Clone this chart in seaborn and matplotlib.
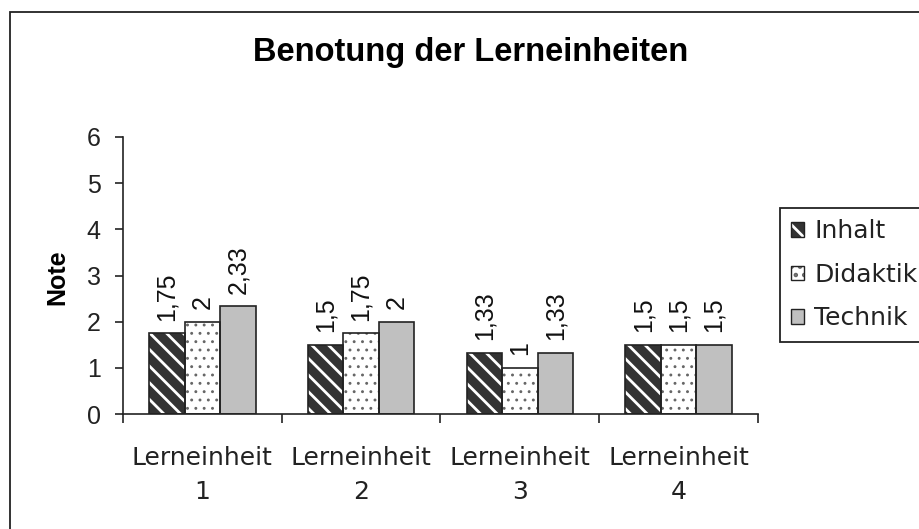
import numpy as np
import pandas as pd
import matplotlib
matplotlib.use("Agg")
import matplotlib.pyplot as plt
import seaborn as sns
from matplotlib.patches import Patch, Rectangle
from matplotlib.legend_handler import HandlerTuple

# ---- data ----
categories = ["Lerneinheit\n1", "Lerneinheit\n2", "Lerneinheit\n3", "Lerneinheit\n4"]
series_names = ["Inhalt", "Didaktik", "Technik"]
inhalt = [1.75, 1.5, 1.33, 1.5]
didaktik = [2, 1.75, 1, 1.5]
technik = [2.33, 2, 1.33, 1.5]
yticks = [0, 1, 2, 3, 4, 5, 6]
title = "Benotung der Lerneinheiten"
ylabel = "Note"


def fmt(v):
    return f"{v:g}".replace(".", ",")


sns.set_theme(style="ticks")
plt.rcParams["font.family"] = ["Liberation Sans", "DejaVu Sans"]
plt.rcParams["hatch.linewidth"] = 2.0
WIDE = ["DejaVu Sans"]

df = pd.DataFrame({
    "Lerneinheit": categories * 3,
    "Note": inhalt + didaktik + technik,
    "Kriterium": sum([[s] * len(categories) for s in series_names], []),
})

fills = {"Inhalt": "#333333", "Didaktik": "#ffffff", "Technik": "#c0c0c0"}
hatches = {"Inhalt": "\\\\", "Didaktik": "..", "Technik": ""}
hatchcol = {"Inhalt": "#ffffff", "Didaktik": "#666666", "Technik": "#c0c0c0"}
hatchlw = {"Inhalt": 2.0, "Didaktik": 0.9, "Technik": 1.0}

fig = plt.figure(figsize=(9.2, 5.29), dpi=100)
ax = fig.add_axes([123 / 920, 1 - 414 / 529, (758 - 123) / 920, (414 - 137) / 529])

sns.barplot(data=df, x="Lerneinheit", y="Note", hue="Kriterium",
            hue_order=series_names, order=categories, palette=fills,
            width=0.67, gap=0, saturation=1, legend=False, ax=ax,
            linewidth=0, errorbar=None)
n_fill = len(ax.containers)
for name, cont in zip(series_names, ax.containers):
    for p in cont:
        p.set_hatch(hatches[name])
        p.set_edgecolor(hatchcol[name])
        p.set_linewidth(0)
        if hasattr(p, "set_hatch_linewidth"):
            p.set_hatch_linewidth(hatchlw[name])
    ax.bar_label(cont, labels=[fmt(v) for v in cont.datavalues],
                 rotation=90, padding=9, fontsize=18, color="#111111")

# outlines
sns.barplot(data=df, x="Lerneinheit", y="Note", hue="Kriterium",
            hue_order=series_names, order=categories, palette=fills,
            width=0.67, gap=0, saturation=1, legend=False, ax=ax,
            errorbar=None)
for cont in ax.containers[n_fill:]:
    for p in cont:
        p.set_facecolor("none")
        p.set_edgecolor("#222222")
        p.set_linewidth(1.2)
        p.set_hatch(None)

ax.set_ylim(0, 6)
ax.set_yticks(yticks)
ax.set_yticklabels([str(t) for t in yticks])
ax.set_xlim(-0.5, len(categories) - 0.5)
ax.set_xticks(np.arange(-0.5, len(categories), 1.0))
ax.set_xticklabels([])
ax.set_xticks(np.arange(len(categories)), minor=True)
ax.set_xticklabels(categories, minor=True, family=WIDE, linespacing=1.55)
ax.tick_params(axis="x", which="minor", length=0, pad=23, labelsize=18,
               labelcolor="#222222")
ax.tick_params(axis="x", which="major", length=6.5, width=1.2, direction="out",
               color="#222222")
ax.tick_params(axis="y", length=6, width=1.2, pad=10, labelsize=18,
               color="#222222", labelcolor="#222222", left=True)
ax.set_xlabel("")
ax.set_ylabel("")
for s in ["top", "right"]:
    ax.spines[s].set_visible(False)
for s in ["left", "bottom"]:
    ax.spines[s].set_color("#222222")
    ax.spines[s].set_linewidth(1.2)

fig.text(471 / 920, 1 - 52 / 529, title, ha="center", va="center",
         fontsize=23.5, fontweight="bold", color="black")
fig.text(57 / 920, 1 - 277 / 529, ylabel, ha="center", va="center",
         rotation=90, fontsize=18, fontweight="bold", color="black")

# chart frame
fig.add_artist(Rectangle((10 / 920, -0.05), 1.0, 1 - 12 / 529 + 0.05,
                         transform=fig.transFigure, fill=False,
                         edgecolor="#222222", linewidth=1.3))

handles = []
for n in series_names:
    hp = Patch(facecolor=fills[n], edgecolor=hatchcol[n], hatch=hatches[n], linewidth=0)
    if hasattr(hp, "set_hatch_linewidth"):
        hp.set_hatch_linewidth(hatchlw[n])
    handles.append((hp, Patch(facecolor="none", edgecolor="#222222", linewidth=1.0)))

leg = fig.legend(handles, series_names,
                 handler_map={tuple: HandlerTuple(ndivide=1, pad=0)},
                 loc="upper left", bbox_to_anchor=(780 / 920, 1 - 208 / 529),
                 frameon=True, fancybox=False, edgecolor="#222222",
                 framealpha=1, prop={"family": WIDE, "size": 18},
                 handlelength=0.52, handleheight=0.52, handletextpad=0.4,
                 labelspacing=0.78, borderpad=0.45, borderaxespad=0)
leg.get_frame().set_linewidth(1.3)
for t in leg.get_texts():
    t.set_color("#222222")

fig.savefig("out.png", dpi=100)
